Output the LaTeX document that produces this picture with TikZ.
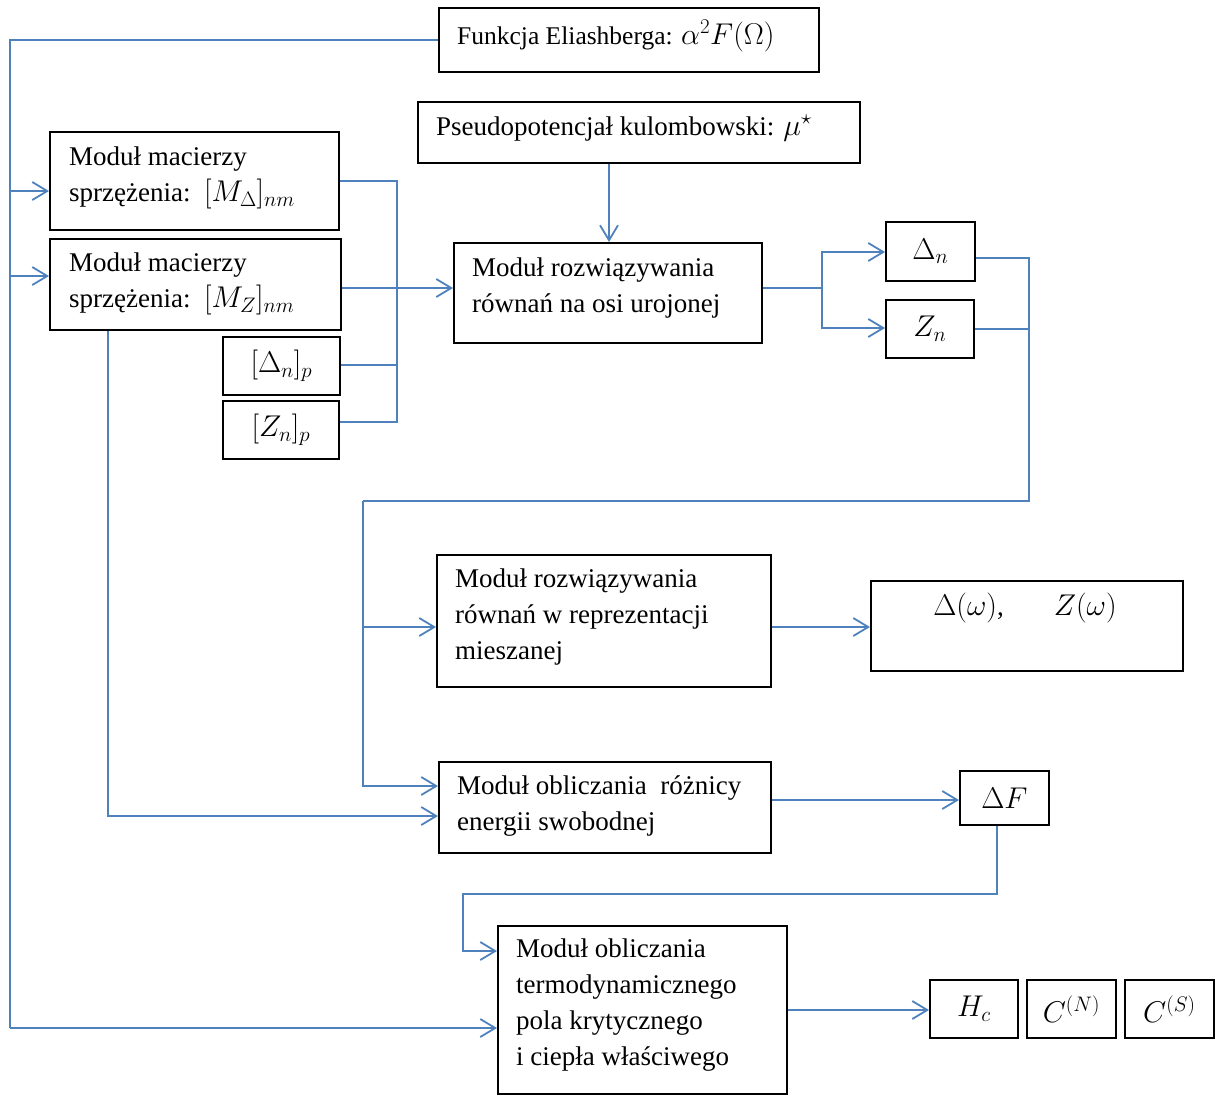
\documentclass[tikz,border=0pt]{standalone}
\usepackage{fix-cm}
\usepackage{fontspec}
\setmainfont{Liberation Serif}
\usetikzlibrary{arrows.meta}
\definecolor{lineblue}{HTML}{4F81BD}
\newcommand{\mth}[1]{{\fontsize{30}{36}\selectfont$#1$}}
\begin{document}
\begin{tikzpicture}[x=1pt,y=-1pt,
 box/.style={draw=black, line width=1.8pt, anchor=north west, inner sep=0pt,
   font=\fontsize{27}{36}\selectfont},
 txt/.style={font=\fontsize{27}{36}\selectfont, inner sep=0pt, align=left, anchor=west},
 conn/.style={draw=lineblue, line width=1.8pt},
 arr/.style={conn, -{Straight Barb[length=15pt,width=18pt,line width=1.8pt]}}]
\useasboundingbox (0,0) rectangle (1215,1095);

% boxes
\node[box, minimum width=380pt, minimum height=64pt] (fun) at (438,7) {};
\node[box, minimum width=442pt, minimum height=61pt] (ps) at (417,101) {};
\node[box, minimum width=289pt, minimum height=98pt] (md) at (49,131) {};
\node[box, minimum width=291pt, minimum height=91pt] (mz) at (49,238) {};
\node[box, minimum width=117pt, minimum height=58pt] (dp) at (222,336) {\mth{[\Delta_n]_p}};
\node[box, minimum width=116pt, minimum height=58pt] (zp) at (222,400) {\mth{[Z_n]_p}};
\node[box, minimum width=308pt, minimum height=100pt] (rw) at (453,242) {};
\node[box, minimum width=89pt, minimum height=59pt] (dn) at (885,221) {\mth{\Delta_n}};
\node[box, minimum width=88pt, minimum height=58pt] (zn) at (885,299) {\mth{Z_n}};
\node[box, minimum width=334pt, minimum height=132pt] (mr) at (436,554) {};
\node[box, minimum width=312pt, minimum height=90pt] (dw) at (870,580) {};
\node[box, minimum width=332pt, minimum height=91pt] (mo) at (438,761) {};
\node[box, minimum width=89pt, minimum height=54pt] (df) at (959,770) {\mth{\Delta F}};
\node[box, minimum width=289pt, minimum height=168pt] (term) at (497,925) {};
\node[box, minimum width=88pt, minimum height=58pt] (hc) at (929,979) {\mth{H_c}};
\node[box, minimum width=89pt, minimum height=58pt] (cn) at (1026,979) {\mth{C^{(N)}}};
\node[box, minimum width=89pt, minimum height=58pt] (cs) at (1124,979) {\mth{C^{(S)}}};

% texts
\node[txt, font=\fontsize{25.5}{36}\selectfont] (tfun) at (457,36) {Funkcja Eliashberga: \mth{\alpha^2F(\Omega)}};
\node[txt] (tps) at (436,128) {Pseudopotencjał kulombowski: \mth{\mu^\star}};
\node[txt] (tmd) at (69,178) {Moduł macierzy\\sprzężenia:\ \ \mth{[M_\Delta]_{nm}}};
\node[txt] (tmz) at (69,284) {Moduł macierzy\\sprzężenia:\ \ \mth{[M_Z]_{nm}}};
\node[txt] (trw) at (472,288) {Moduł rozwiązywania\\równań na osi urojonej};
\node[txt] (tmr) at (455,617) {Moduł rozwiązywania\\równań w reprezentacji\\mieszanej};
\node[txt, anchor=center] (tdw) at (1025,608) {\mth{\Delta(\omega)},\hspace{50pt}\mth{Z(\omega)}};
\node[txt] (tmo) at (457,806) {Moduł obliczania\ \ różnicy\\energii swobodnej};
\node[txt] (tterm) at (516,1005) {Moduł obliczania\\termodynamicznego\\pola krytycznego\\i ciepła właściwego};

% helper coordinates
\coordinate (Ltop) at (10,39);
\coordinate (Lbot) at (10,1028);
\coordinate (Rtop) at (397,181);
\coordinate (Rbot) at (397,422);
\coordinate (split) at (822,288);
\coordinate (Rk) at (1029,501);
\coordinate (Lk) at (363,501);
\coordinate (dfk) at (463,894);

% connectors
\draw[conn] (fun.west) -- (fun.west -| Ltop) -- (Lbot);
\draw[arr] (Ltop |- 0,191) -- (md.west |- 0,191);
\draw[arr] (Ltop |- 0,276) -- (mz.west |- 0,276);
\draw[arr] (Lbot) -- (term.west |- Lbot);

\draw[conn] (md.east |- Rtop) -- (Rtop) -- (Rbot) -- (zp.east |- Rbot);
\draw[conn] (dp.east |- 0,365) -- (Rtop |- 0,365);
\draw[arr] (mz.east |- split) -- (rw.west |- split);

\draw[arr] (ps.south -| 609,0) -- (rw.north -| 609,0);

\draw[conn] (rw.east |- split) -- (split);
\draw[arr] (split) |- (dn.west |- 0,252);
\draw[arr] (split) |- (zn.west |- 0,328);

\draw[conn] (dn.east |- 0,258) -| (Rk) -- (Lk);
\draw[conn] (zn.east |- 0,329) -- (Rk |- 0,329);
\draw[arr] (Lk) |- (mr.west |- 0,627);
\draw[arr] (Lk) |- (mo.west |- 0,786);

\draw[arr] (mz.south -| 108,0) |- (mo.west |- 0,816);

\draw[arr] (mr.east |- 0,627) -- (dw.west |- 0,627);
\draw[arr] (mo.east |- 0,800) -- (df.west |- 0,800);
\draw[arr] (df.south -| 997,0) |- (dfk) |- (term.west |- 0,951);
\draw[arr] (term.east |- 0,1010) -- (hc.west |- 0,1010);
\end{tikzpicture}
\end{document}
